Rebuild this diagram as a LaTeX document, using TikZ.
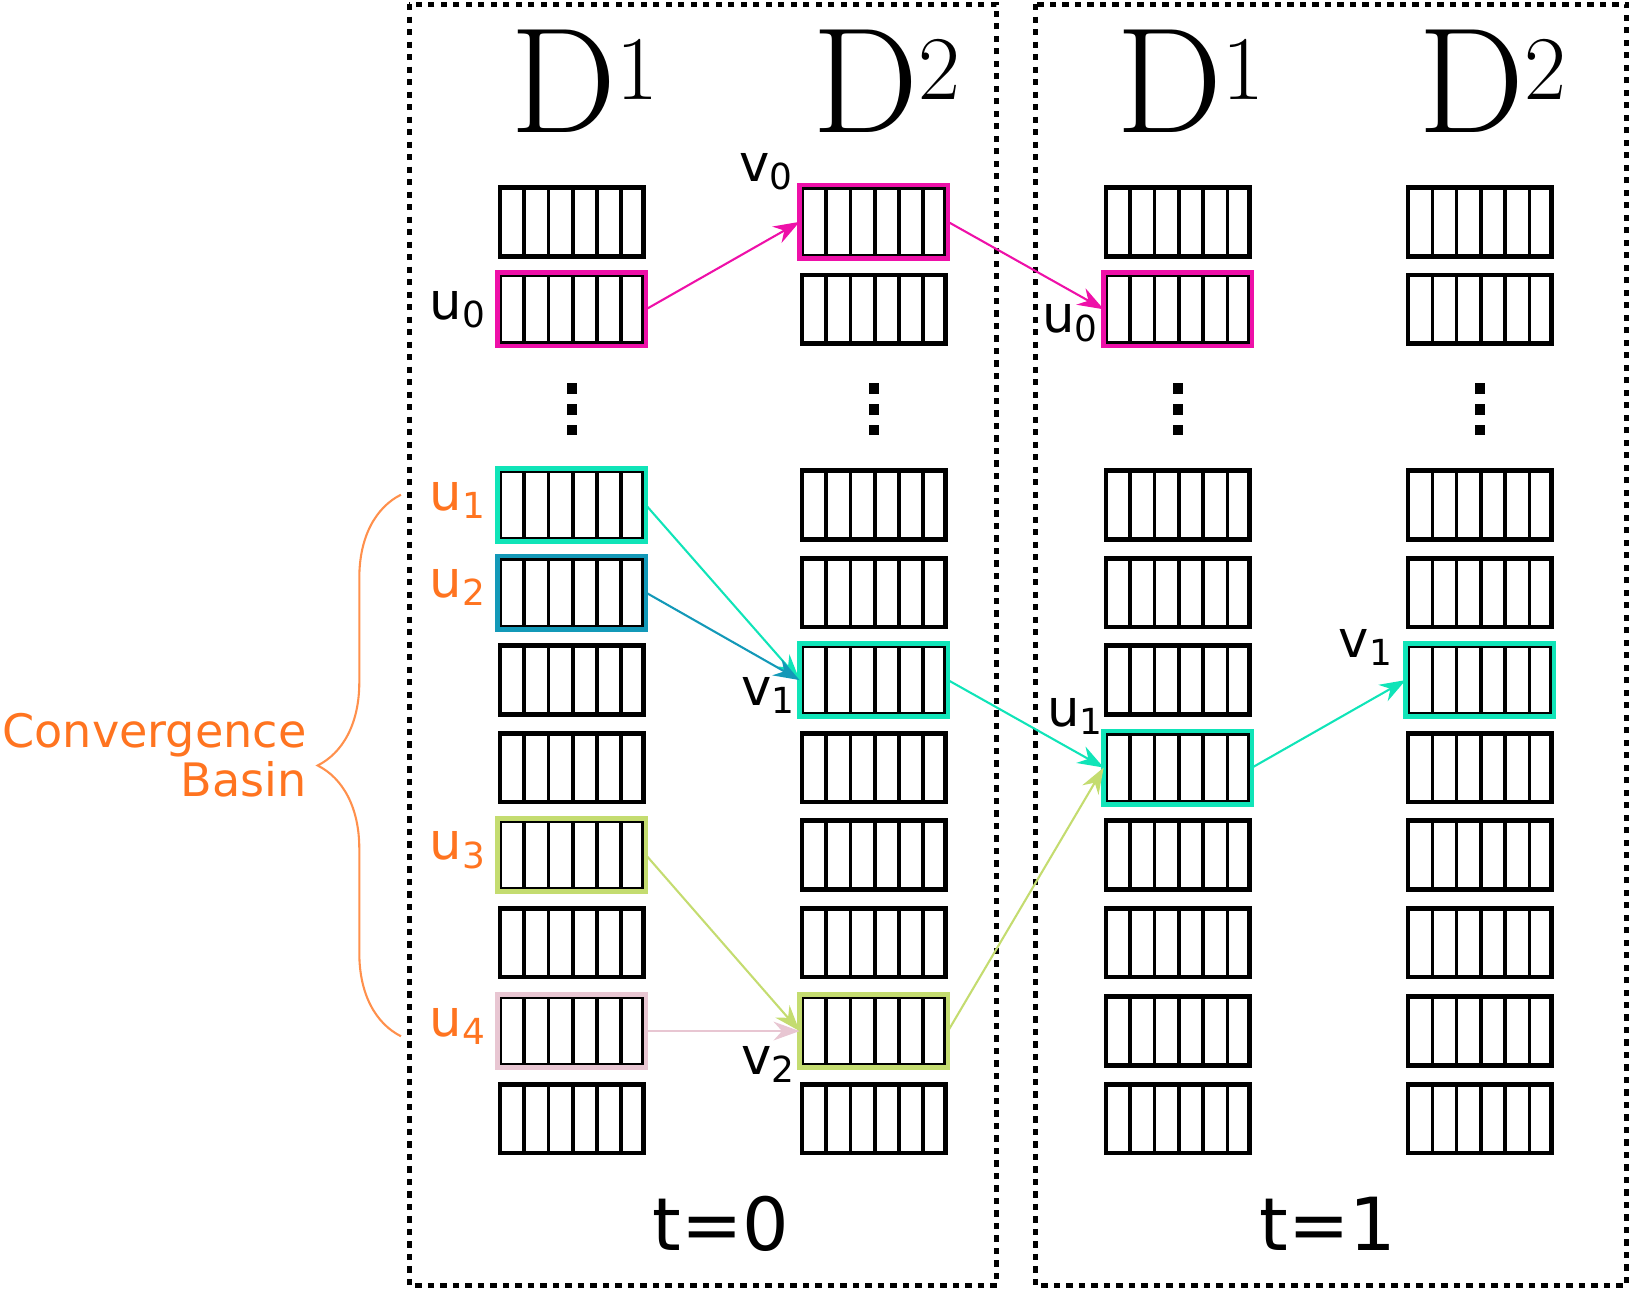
\documentclass[tikz,border=0pt]{standalone}
\usepackage{fontspec}
\setsansfont{DejaVu Sans}
\usetikzlibrary{positioning,decorations.pathreplacing,arrows.meta}
\definecolor{mag}{HTML}{EE10A8}
\definecolor{turq}{HTML}{10E4B8}
\definecolor{teal}{HTML}{1399B8}
\definecolor{lime}{HTML}{C4DC70}
\definecolor{pinkish}{HTML}{E8C6D2}
\definecolor{orng}{HTML}{FF7420}
\tikzset{
  cell/.style={draw, line width=0.045cm, minimum width=1.38cm, minimum height=0.66cm, inner sep=0pt,
    path picture={\foreach \i in {1,...,5}
      \draw[line width=0.035cm] (path picture bounding box.south west) ++(\i*0.233,0) -- ++(0,0.7);}},
  hl/.style={draw=#1, line width=0.045cm},
  link/.style={-{Stealth[length=0.25cm,width=0.18cm]}, line width=0.02cm},
  lab/.style={font=\sffamily\fontsize{14}{16}\selectfont, inner sep=0pt},
  head/.style={font=\fontsize{41}{44}\selectfont},
  frame/.style={draw, line width=0.045cm, dash pattern=on 0.06cm off 0.06cm}
}
\begin{document}
\begin{tikzpicture}
  \useasboundingbox (0,0) rectangle (15.68,-12.38);
  % frames
  \draw[frame] (3.93,-0.04) rectangle (9.57,-12.34);
  \draw[frame] (9.94,-0.04) rectangle (15.62,-12.34);
  % column heads
  \foreach \c/\x/\s in {a/5.62/1,b/8.52/2,c/11.44/1,d/14.34/2}{
    \node[head] (h\c) at (\x,-0.78) {D$^{\s}$};
  }
  \foreach \c/\x in {a/5.49,b/8.39,c/11.31,d/14.21}{
    \foreach \r/\y in {0/2.13,1/2.97,2/4.85,3/5.69,4/6.53,5/7.37,6/8.21,7/9.05,8/9.90,9/10.74}
      \node[cell] (\c\r) at (\x,-\y) {};
    \foreach \d in {3.73,3.93,4.13}
      \fill (\x-0.05,-\d-0.05) rectangle (\x+0.05,-\d+0.05);
  }
  % highlighted cells
  \draw[hl=mag] (a1.south west) rectangle (a1.north east);
  \draw[hl=mag] (b0.south west) rectangle (b0.north east);
  \draw[hl=mag] (c1.south west) rectangle (c1.north east);
  \draw[hl=turq] (a2.south west) rectangle (a2.north east);
  \draw[hl=teal] (a3.south west) rectangle (a3.north east);
  \draw[hl=lime] (a6.south west) rectangle (a6.north east);
  \draw[hl=pinkish] (a8.south west) rectangle (a8.north east);
  \draw[hl=turq] (b4.south west) rectangle (b4.north east);
  \draw[hl=lime] (b8.south west) rectangle (b8.north east);
  \draw[hl=turq] (c5.south west) rectangle (c5.north east);
  \draw[hl=turq] (d4.south west) rectangle (d4.north east);
  % labels
  \node[lab] (lu0) at (4.40,-2.97) {u\textsubscript{0}};
  \node[lab, orng] (lu1) at (4.40,-4.80) {u\textsubscript{1}};
  \node[lab, orng] (lu2) at (4.40,-5.64) {u\textsubscript{2}};
  \node[lab, orng] (lu3) at (4.40,-8.16) {u\textsubscript{3}};
  \node[lab, orng] (lu4) at (4.40,-9.85) {u\textsubscript{4}};
  \node[lab] (lv0) at (7.36,-1.65) {v\textsubscript{0}};
  \node[lab] (lv1) at (7.38,-6.68) {v\textsubscript{1}};
  \node[lab] (lv2) at (7.38,-10.22) {v\textsubscript{2}};
  \node[lab] (mu0) at (10.28,-3.10) {u\textsubscript{0}};
  \node[lab] (mu1) at (10.33,-6.88) {u\textsubscript{1}};
  \node[lab] (mv1) at (13.12,-6.22) {v\textsubscript{1}};
  % links
  \draw[link, mag] (a1.east) -- (b0.west);
  \draw[link, mag] (b0.east) -- (c1.west);
  \draw[link, turq] (a2.east) -- (b4.west);
  \draw[link, teal] (a3.east) -- (b4.west);
  \draw[link, turq] (b4.east) -- (c5.west);
  \draw[link, lime] (a6.east) -- (b8.west);
  \draw[link, pinkish] (a8.east) -- (b8.west);
  \draw[link, lime] (b8.east) -- (c5.west);
  \draw[link, turq] (c5.east) -- (d4.west);
  % basin brace
  \coordinate (bt) at (3.85,-4.75);
  \coordinate (bb) at (3.85,-9.95);
  \draw[orng!80, line width=0.02cm, decorate, decoration={brace, amplitude=0.8cm}] (bb) -- (bt);
  \node[lab, orng, align=right, anchor=east, font=\sffamily\fontsize{12.6}{13.2}\selectfont] (basin) at (2.95,-7.25) {Convergence\\Basin};
  % times
  \node[lab, font=\sffamily\fontsize{20}{22}\selectfont] (t0) at (6.92,-11.75) {t=0};
  \node[lab, font=\sffamily\fontsize{20}{22}\selectfont] (t1) at (12.75,-11.75) {t=1};
\end{tikzpicture}
\end{document}
